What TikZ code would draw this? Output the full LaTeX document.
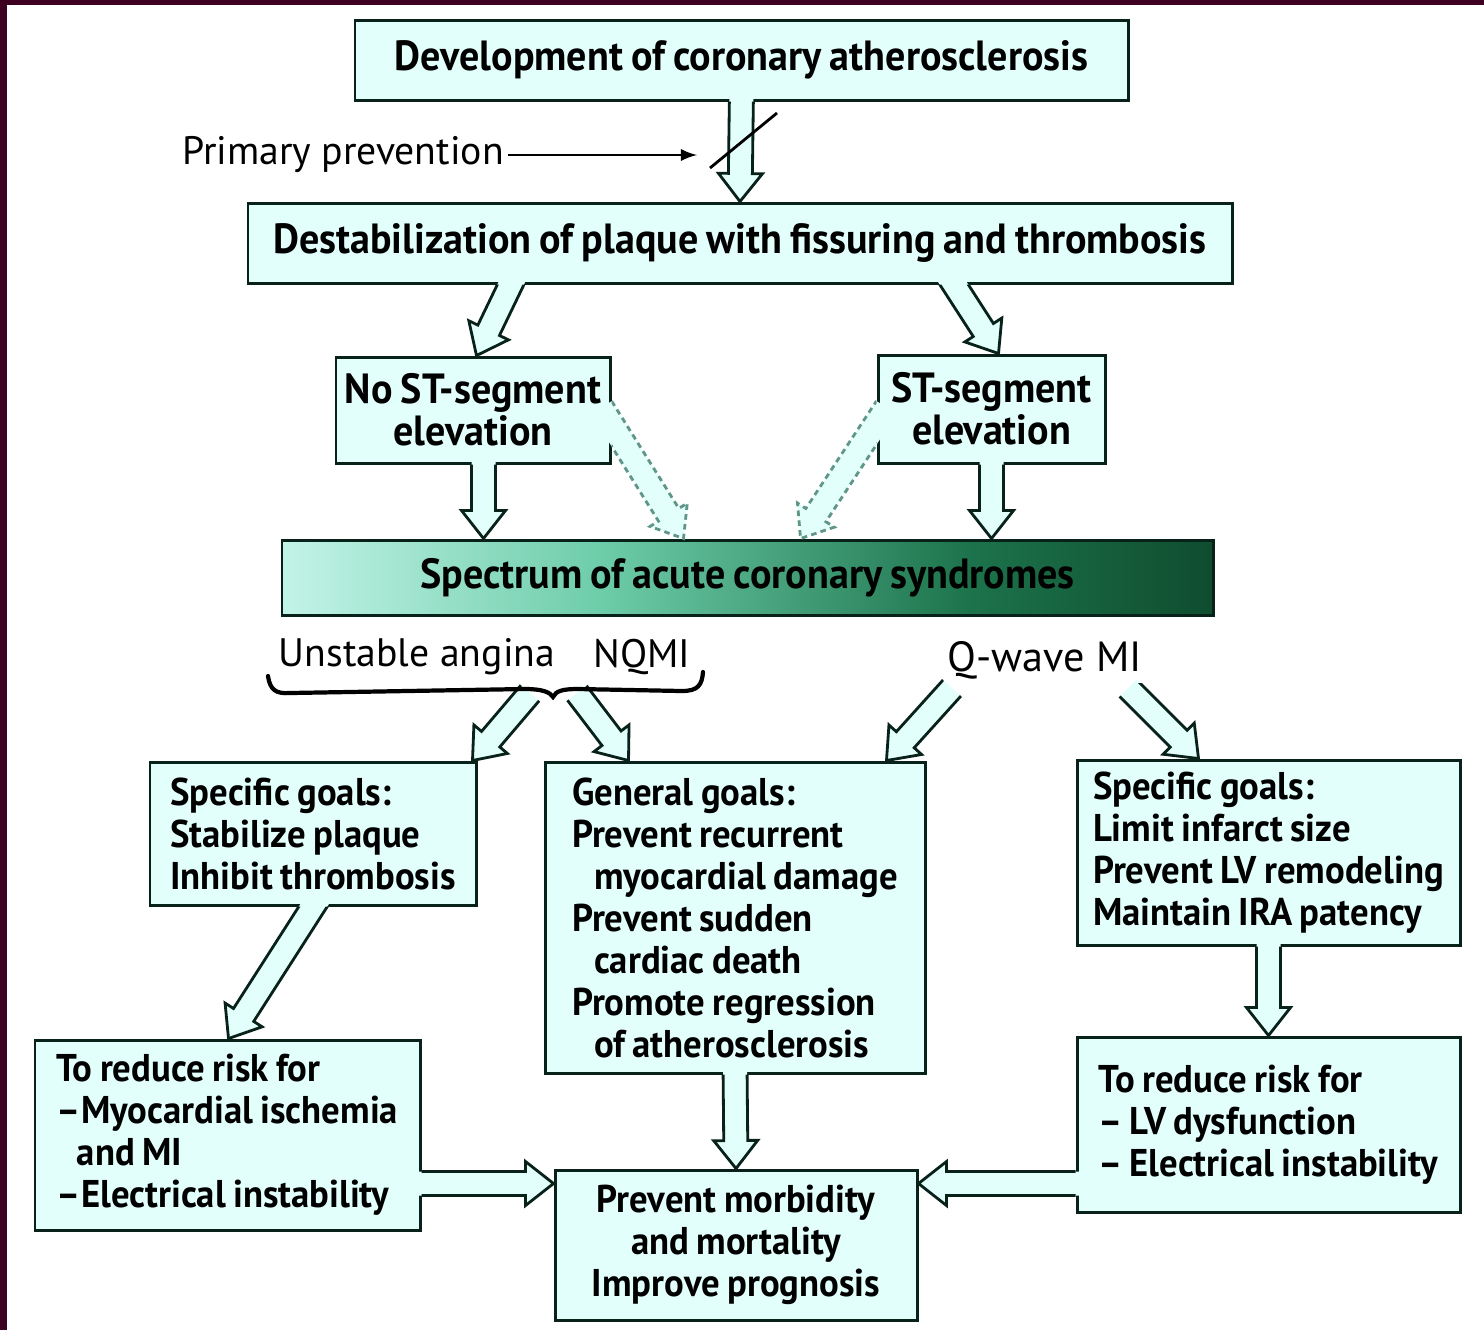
\documentclass[tikz,border=0pt]{standalone}
\usepackage{fontspec}
\setmainfont{PT Sans}
\newfontfamily\boxfont{PT Sans}[FakeStretch=0.95, WordSpace=0.8]
\usetikzlibrary{calc}

% hollow block arrow: [outline style]{source node}{(start)}{(tip)}
\newcommand{\hollowarrow}[4][]{%
	\coordinate (ha) at #3;
	\coordinate (hb) at #4;
	\coordinate (hh) at ($(hb)!0.28cm!(ha)$);
	\fill[arrowfill] ($(ha)!0.12cm!90:(hb)$) -- ($(hh)!0.12cm!90:(hb)$) -- ($(hh)!0.22cm!90:(hb)$) -- (hb)
		-- ($(hh)!0.22cm!-90:(hb)$) -- ($(hh)!0.12cm!-90:(hb)$) -- ($(ha)!0.12cm!-90:(hb)$) -- cycle;
	\begin{scope}[even odd rule]
		\clip (-1,1) rectangle (16,-15) (#2.south west) rectangle (#2.north east);
		\draw[arrowline,#1] ($(ha)!0.12cm!90:(hb)$) -- ($(hh)!0.12cm!90:(hb)$) -- ($(hh)!0.22cm!90:(hb)$) -- (hb)
			-- ($(hh)!0.22cm!-90:(hb)$) -- ($(hh)!0.12cm!-90:(hb)$) -- ($(ha)!0.12cm!-90:(hb)$);
	\end{scope}
}

\definecolor{specleft}{RGB}{220,255,250}
\definecolor{spectwo}{RGB}{110,205,170}
\definecolor{specthree}{RGB}{28,115,75}
\definecolor{specfour}{RGB}{10,62,36}
\definecolor{specright}{RGB}{4,35,18}
\pgfdeclarehorizontalshading{spectrum}{100bp}{color(0bp)=(specleft); color(20bp)=(specleft); color(42bp)=(spectwo); color(62bp)=(specthree); color(80bp)=(specfour); color(100bp)=(specright)}

\begin{document}
\begin{tikzpicture}
		\tikzstyle{every node}=[font=\boxfont\bfseries\fontsize{12}{11.95}\selectfont]
		\tikzstyle{box} = [draw={rgb,255:red,8; green,34; blue,26}, line width=0.85pt, fill={rgb,255:red,226; green,255; blue,252}, align=center, inner sep=0pt]
		\tikzstyle{goal} = [box, align=left, font=\boxfont\bfseries\fontsize{11}{11.95}\selectfont]
		\tikzstyle{tag} = [font=\normalfont\fontsize{11.3}{14}\selectfont, inner sep=1pt]
		\tikzstyle{arrowfill} = [fill={rgb,255:red,226; green,255; blue,252}]
		\tikzstyle{arrowline} = [draw={rgb,255:red,8; green,34; blue,26}, line width=0.8pt]
		\tikzstyle{faint} = [draw={rgb,255:red,95; green,150; blue,135}, dash pattern=on 1.6pt off 1.2pt]
		\tikzstyle{thinarrow} = [->, line width=0.6pt, >=latex]
		\tikzstyle{frame} = [fill={rgb,255:red,62; green,0; blue,32}]

		\useasboundingbox (0,0) rectangle (14.84cm,-13.3cm);
		\fill[frame] (0,0) rectangle (0.07cm,-13.3cm);
		\fill[frame] (0,0) rectangle (14.84cm,-0.05cm);

		\draw (7.415cm,-0.6cm) node[box, minimum width=7.73cm, minimum height=0.8cm](dev){Development of coronary atherosclerosis};
		\draw (7.4cm,-2.43cm) node[box, minimum width=9.84cm, minimum height=0.8cm](destab){Destabilization of plaque with fissuring and thrombosis};
		\draw (4.73cm,-4.1cm) node[box, minimum width=2.74cm, minimum height=1.06cm](nost){No ST-segment\\elevation};
		\draw (9.915cm,-4.09cm) node[box, minimum width=2.27cm, minimum height=1.08cm](st){ST-segment\\elevation};
		\draw (7.475cm,-5.775cm) node[box, minimum width=9.31cm, minimum height=0.75cm, shading=spectrum](spec){Spectrum of acute coronary syndromes};

		\draw (3.13cm,-8.335cm) node[goal, minimum width=3.26cm, minimum height=1.43cm](spl){Specific goals:\\Stabilize plaque\\Inhibit thrombosis};
		\draw (7.35cm,-9.175cm) node[goal, minimum width=3.8cm, minimum height=3.11cm](gen){General goals:\\Prevent recurrent\\\hspace*{0.22cm}myocardial damage\\Prevent sudden\\\hspace*{0.22cm}cardiac death\\Promote regression\\\hspace*{0.22cm}of atherosclerosis};
		\draw (12.685cm,-8.525cm) node[goal, minimum width=3.83cm, minimum height=1.85cm](spr){Specific goals:\\Limit infarct size\\Prevent LV remodeling\\Maintain IRA patency};
		\draw (2.275cm,-11.35cm) node[goal, minimum width=3.85cm, minimum height=1.9cm](trl){To reduce risk for\\\textendash Myocardial ischemia\\\hspace*{0.2cm}and MI\\\textendash Electrical instability};
		\draw (7.36cm,-12.45cm) node[box, minimum width=3.62cm, minimum height=1.5cm, font=\boxfont\bfseries\fontsize{11}{11.95}\selectfont](prev){Prevent morbidity\\and mortality\\Improve prognosis};
		\draw (12.685cm,-11.245cm) node[goal, minimum width=3.83cm, minimum height=1.75cm](trr){To reduce risk for\\\textendash\,LV dysfunction\\\textendash\,Electrical instability};

		\draw (3.43cm,-1.55cm) node[tag](prim){Primary prevention};
		\draw (4.17cm,-6.57cm) node[tag](unst){Unstable angina};
		\draw (6.42cm,-6.57cm) node[tag](nqmi){NQMI};
		\draw (10.45cm,-6.6cm) node[tag, font=\normalfont\fontsize{12}{14}\selectfont](qwave){Q-wave MI};
		\node[inner sep=0pt, minimum size=0pt] (cusp) at (5.53cm,-6.97cm) {};

		\hollowarrow{dev}{([yshift=0.1cm]dev.south)}{(destab.north)}
		\hollowarrow{destab}{([xshift=2.69cm, yshift=0.1cm]destab.south west)}{([xshift=1.42cm]nost.north west)}
		\hollowarrow{destab}{([xshift=7.01cm, yshift=0.1cm]destab.south west)}{([xshift=1.22cm]st.north west)}
		\hollowarrow{nost}{([xshift=1.49cm, yshift=0.1cm]nost.south west)}{([xshift=2.03cm]spec.north west)}
		\hollowarrow{st}{([xshift=1.15cm, yshift=0.1cm]st.south west)}{([xshift=7.11cm]spec.north west)}
		\hollowarrow[faint]{nost}{([xshift=-0.1cm, yshift=-0.52cm]nost.north east)}{([xshift=4.03cm]spec.north west)}
		\hollowarrow[faint]{st}{([xshift=0.1cm, yshift=-0.54cm]st.north west)}{([xshift=5.2cm]spec.north west)}
		\hollowarrow{cusp}{([xshift=-0.23cm, yshift=0.04cm]cusp)}{([xshift=-0.05cm]spl.north east)}
		\hollowarrow{cusp}{([xshift=0.24cm, yshift=0.04cm]cusp)}{([xshift=0.85cm]gen.north west)}
		\hollowarrow{qwave}{([xshift=-0.93cm, yshift=-0.28cm]qwave.center)}{([xshift=-0.4cm]gen.north east)}
		\hollowarrow{qwave}{([xshift=0.83cm, yshift=-0.28cm]qwave.center)}{([xshift=1.23cm]spr.north west)}
		\hollowarrow{spl}{([xshift=1.71cm, yshift=0.1cm]spl.south west)}{([xshift=1.95cm]trl.north west)}
		\hollowarrow{gen}{([yshift=0.1cm]gen.south)}{(prev.north)}
		\hollowarrow{spr}{([yshift=0.1cm]spr.south)}{(trr.north)}
		\hollowarrow{trl}{([xshift=-0.1cm, yshift=-1.45cm]trl.north east)}{([yshift=-0.15cm]prev.north west)}
		\hollowarrow{trr}{([xshift=0.1cm, yshift=-1.48cm]trr.north west)}{([yshift=-0.15cm]prev.north east)}

		% primary prevention blocks the first step
		\coordinate (pp) at (6.97cm,-1.55cm);
		\draw[thinarrow] (prim.east) -- (pp);
		\coordinate (slashlo) at (7.1cm,-1.68cm);
		\coordinate (slashhi) at (7.77cm,-1.13cm);
		\draw[line width=0.8pt] (slashlo) -- (slashhi);

		% brace under unstable angina / NQMI
		\draw[line width=1.2pt, line cap=round] (2.68cm,-6.76cm) .. controls (2.7cm,-6.9cm) and (2.76cm,-6.94cm) .. (2.9cm,-6.93cm)
		   -- (5.25cm,-6.89cm) .. controls (5.42cm,-6.89cm) and (5.5cm,-6.92cm) .. (cusp.center)
		   .. controls (5.56cm,-6.91cm) and (5.62cm,-6.89cm) .. (5.78cm,-6.89cm)
		   -- (6.82cm,-6.91cm) .. controls (6.98cm,-6.91cm) and (7.02cm,-6.85cm) .. (7.03cm,-6.72cm);
	\end{tikzpicture}
\end{document}
